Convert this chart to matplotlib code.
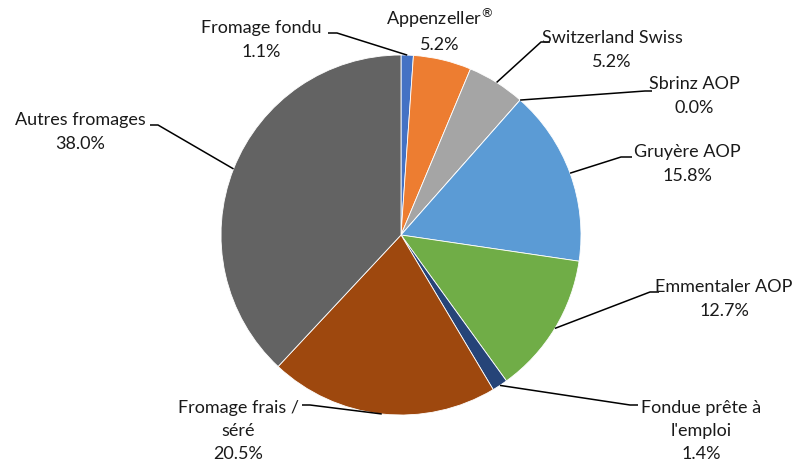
import matplotlib
matplotlib.use("Agg")
import matplotlib.pyplot as plt
import numpy as np

# share of cheese categories (%)
labels = ["Fromage fondu", "Appenzeller$^{\\circledR}$", "Switzerland Swiss", "Sbrinz AOP",
          "Gruyère AOP", "Emmentaler AOP", "Fondue prête à\nl'emploi",
          "Fromage frais /\nséré", "Autres fromages"]
values = [1.1, 5.2, 5.2, 0.0, 15.8, 12.7, 1.4, 20.5, 38.0]
colors = ["#4472C4", "#ED7D31", "#A5A5A5", "#FFC000", "#5B9BD5",
          "#70AD47", "#264478", "#9E480E", "#636363"]

# label layout in pixels (top-left origin): text centre, elbow, stub end
W, H = 805, 463
text_pos = [(261, 40), (440, 30), (612, 50), (694, 96), (687, 164),
            (724, 299), (701, 431), (238, 431), (80, 132)]
elbows = [(337, 33), None, (541, 42), (645, 91), (621, 157),
          (650, 292), (630, 405), (310, 405), (158, 125)]
stubs = [(328, 33), None, (550, 42), (652, 91), (632, 157),
         (659, 292), (638, 405), (302, 405), (150, 125)]

plt.rcParams['font.family'] = ['Lato', 'DejaVu Sans']

fig = plt.figure(figsize=(W / 100, H / 100), dpi=100)
ax = fig.add_axes([0, 0, 1, 1])

cx, cy, r = 401, H - 235, 180
wedges, _ = ax.pie(values, colors=colors, startangle=90, counterclock=False,
                   center=(cx, cy), radius=r, frame=True,
                   wedgeprops=dict(edgecolor='white', linewidth=0.6))
ax.set_xlim(0, W)
ax.set_ylim(0, H)
ax.set_aspect('equal')
ax.axis('off')

for w, lab, v, tp, el, st in zip(wedges, labels, values, text_pos, elbows, stubs):
    ax.text(tp[0], H - tp[1], f"{lab}\n{v:.1f}%", ha='center', va='center',
            multialignment='center', fontsize=13, color='#1a1a1a', linespacing=1.55)
    if el is None:
        continue
    mid = np.deg2rad((w.theta1 + w.theta2) / 2)
    px, py = cx + r * np.cos(mid), cy + r * np.sin(mid)
    ax.plot([px, el[0], st[0]], [py, H - el[1], H - st[1]], color='black', lw=1.1,
            solid_capstyle='butt')

fig.savefig("out.png", dpi=100)
